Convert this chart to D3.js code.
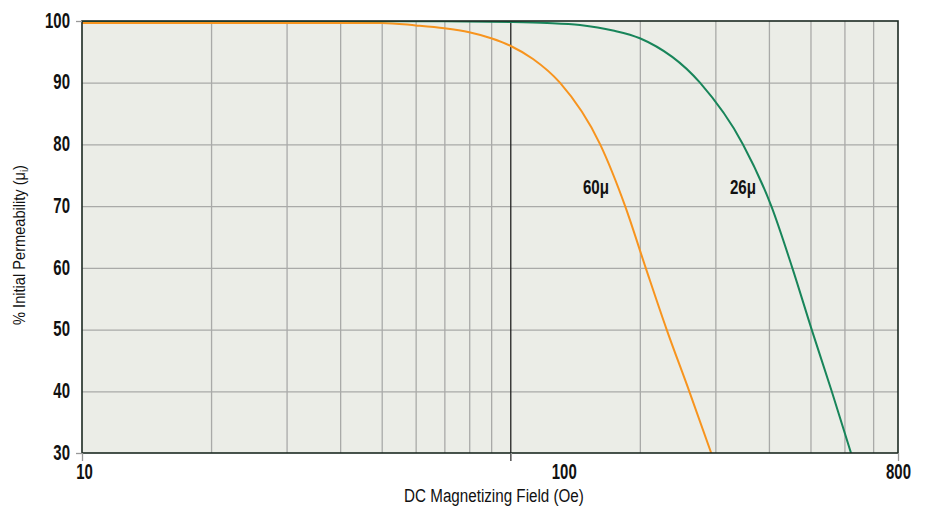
<!DOCTYPE html>
<html>
<head>
<meta charset="utf-8">
<script src="https://cdn.jsdelivr.net/npm/d3@7"></script>
<style>
  body { margin: 0; background: #fff; }
  svg { display: block; font-family: "Liberation Sans", Arial, sans-serif; }
  .grid line { stroke: #a9aaa8; stroke-width: 1.3; }
  .grid path { display: none; }
  .axis path { display: none; }
  .axis text { font-size: 22px; font-weight: bold; fill: #111; }
  .title { font-size: 19px; fill: #111; }
  .label { font-size: 21px; font-weight: bold; fill: #111; }
</style>
</head>
<body>
<script>
// field (Oe) and % of initial permeability
var field60 = [10, 30, 50, 60, 70, 80, 90, 100, 112.7, 130.2, 161.6, 184.8, 206.4, 231, 260.8, 293.4];
var perm60 = [99.68, 99.68, 99.68, 99.29, 98.83, 98.17, 97.2, 95.95, 93.84, 90, 80, 70, 60, 50, 40, 30];
var field26 = [10, 40, 70, 100, 121.5, 145, 173.1, 200, 276.2, 348, 405.2, 453.5, 503.3, 560.4, 621.5];
var perm26 = [100, 100, 99.95, 99.85, 99.69, 99.35, 98.46, 97.2, 90, 80, 70, 60, 50, 40, 30];

var xTicks = [10, 100, 800];
var yTicks = [30, 40, 50, 60, 70, 80, 90, 100];
var xGrid = [20, 30, 40, 50, 60, 70, 80, 90, 200, 300, 400, 500, 600, 700];

var series = [
    {name: "60\u03bc", field: field60, perm: perm60, color: "#f7941e"},
    {name: "26\u03bc", field: field26, perm: perm26, color: "#18855a"}
];

var margin = {top: 21, right: 28, bottom: 53, left: 82},
    width = 926 - margin.left - margin.right,
    height = 506 - margin.top - margin.bottom;

var x = d3.scaleLog()
        .domain([10, 800])
        .range([0, width]);

var y = d3.scaleLinear()
        .domain([30, 100])
        .range([height, 0]);

// the source uses a condensed face; squeeze regular glyphs horizontally
function squeeze(sel, k, pre) {
    sel.each(function() {
        var t = d3.select(this),
            xv = +t.attr("x") || 0,
            dx = +t.attr("dx") || 0;
        t.attr("x", xv / k).attr("dx", dx / k)
         .attr("transform", (pre || "") + " scale(" + k + ",1)");
    });
}

var svg = d3.select("body").append("svg")
        .attr("width", 926)
        .attr("height", 506);

var g = svg.append("g")
        .attr("transform", "translate(" + margin.left + "," + margin.top + ")");

g.append("rect")
        .attr("width", width)
        .attr("height", height)
        .attr("fill", "#ebede7");

g.append("clipPath")
        .attr("id", "clip")
    .append("rect")
        .attr("width", width)
        .attr("height", height);

// grid
g.append("g")
        .attr("class", "grid")
        .attr("transform", "translate(0," + height + ")")
        .call(d3.axisBottom(x).tickValues(xGrid).tickSize(-height).tickFormat(""));
g.append("g")
        .attr("class", "grid")
        .call(d3.axisLeft(y).tickValues(yTicks.slice(1, -1)).tickSize(-width).tickFormat(""));

// dark line at 100 Oe
g.append("line")
        .attr("x1", x(100)).attr("x2", x(100))
        .attr("y1", 0).attr("y2", height + 8)
        .attr("stroke", "#222").attr("stroke-width", 1.3);

var line = d3.line()
        .x(function(d) { return x(d[0]); })
        .y(function(d) { return y(d[1]); })
        .curve(d3.curveMonotoneX);

series.forEach(function(s) {
    var pts = s.field.map(function(f, i) { return [f, s.perm[i]]; });
    g.append("path")
            .datum(pts)
            .attr("clip-path", "url(#clip)")
            .attr("fill", "none")
            .attr("stroke", s.color)
            .attr("stroke-width", 2)
            .attr("d", line);
});

// frame
g.append("rect")
        .attr("width", width)
        .attr("height", height)
        .attr("fill", "none")
        .attr("stroke", "#1c2a22")
        .attr("stroke-width", 1.6);

// axes
var xAxis = g.append("g")
        .attr("class", "axis")
        .attr("transform", "translate(0," + height + ")")
        .call(d3.axisBottom(x).tickValues(xTicks).tickFormat(d3.format("d")).tickSize(8).tickPadding(2));
xAxis.selectAll("line").attr("stroke", "#999").attr("stroke-width", 1.3);
xAxis.selectAll("text").filter(function(d) { return d === 100; }).attr("dx", 53);
xAxis.selectAll("text").filter(function(d) { return d === 10; }).attr("dx", 2);
squeeze(xAxis.selectAll("text"), 0.68);

var yAxis = g.append("g")
        .attr("class", "axis")
        .call(d3.axisLeft(y).tickValues(yTicks).tickSize(0).tickPadding(12));
yAxis.selectAll(".tick").filter(function(d) { return d === 100 || d === 30; })
    .append("line")
        .attr("x1", -6).attr("x2", 0)
        .attr("stroke", "#999").attr("stroke-width", 1.3);
yAxis.selectAll("text").attr("dy", "0.28em");
squeeze(yAxis.selectAll("text"), 0.68);

// curve labels
var labels = g.selectAll("text.label")
    .data([{t: series[0].name, x: 596, y: 194}, {t: series[1].name, x: 743, y: 194}])
    .enter().append("text")
        .attr("class", "label")
        .attr("x", function(d) { return d.x - margin.left; })
        .attr("y", function(d) { return d.y - margin.top; })
        .attr("text-anchor", "middle")
        .text(function(d) { return d.t; });
squeeze(labels, 0.72);

// titles
var xt = svg.append("text")
        .attr("class", "title")
        .attr("x", 494)
        .attr("y", 502)
        .attr("text-anchor", "middle")
        .text("DC Magnetizing Field (Oe)");
squeeze(xt, 0.8);

var yt = svg.append("text")
        .attr("class", "title")
        .attr("text-anchor", "middle")
        .style("font-size", "17px")
        .text("% Initial Permeability (\u03bc");
yt.append("tspan").attr("font-size", "11px").attr("dy", 3).text("i");
yt.append("tspan").attr("dy", -3).text(")");
squeeze(yt, 0.86, "translate(25,245) rotate(-90)");
</script>
</body>
</html>
